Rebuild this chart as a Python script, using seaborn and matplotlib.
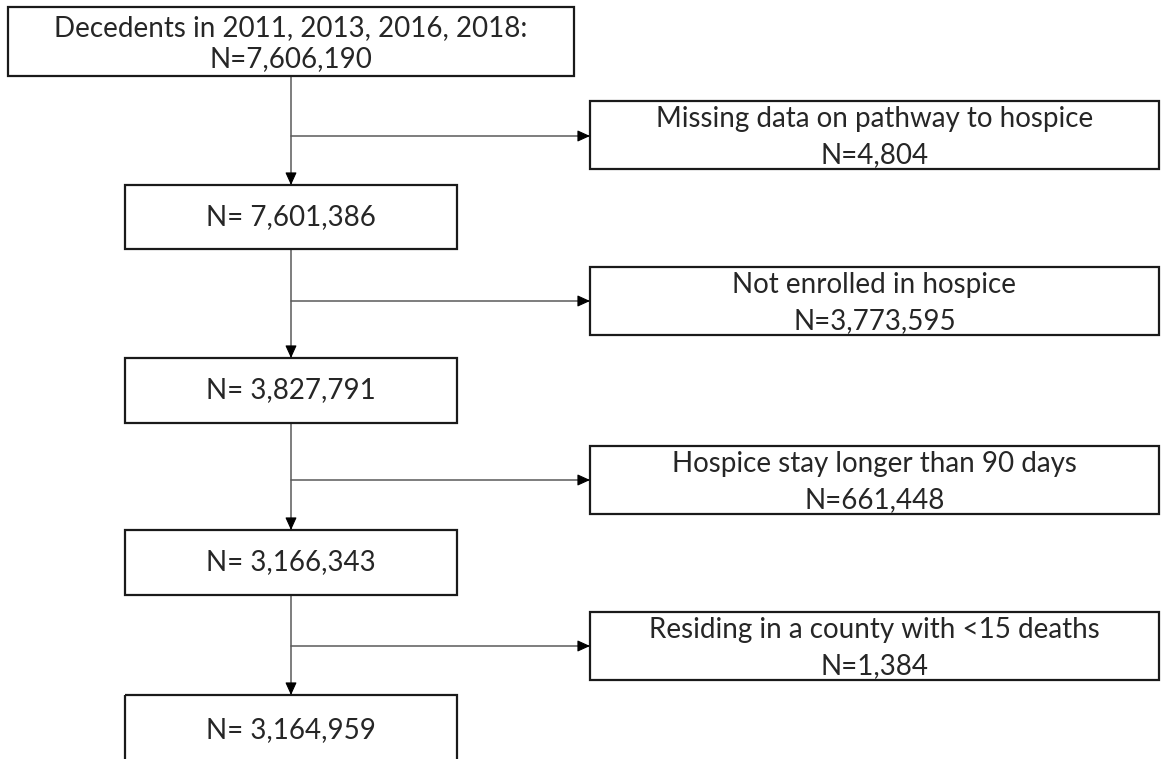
import seaborn as sns
import matplotlib.pyplot as plt
from matplotlib.patches import Rectangle

# flow chart content
top_label = "Decedents in 2011, 2013, 2016, 2018:"
main_counts = ["7,606,190", "7,601,386", "3,827,791", "3,166,343", "3,164,959"]
excluded_labels = [
    "Missing data on pathway to hospice",
    "Not enrolled in hospice",
    "Hospice stay longer than 90 days",
    "Residing in a county with <15 deaths",
]
excluded_counts = ["4,804", "3,773,595", "661,448", "1,384"]

sns.set_style("white")
plt.rcParams['font.family'] = ['Lato', 'DejaVu Sans']

fig = plt.figure(figsize=(11.61, 7.59), dpi=100, facecolor='white')
ax = fig.add_axes([0, 0, 1, 1])
ax.set_xlim(0, 1161)
ax.set_ylim(759, 0)
ax.axis('off')

edge = '#1a1a1a'
line_col = '#5a5a5a'
fs = 20

# main column boxes (left, top, width, height)
main_boxes = [(8, 7, 566, 69), (125, 185, 332, 64), (125, 358, 332, 65),
              (125, 530, 332, 65), (125, 695, 332, 70)]
side_boxes = [(590, 101, 569, 68), (590, 267, 569, 68),
              (590, 446, 569, 68), (590, 612, 569, 68)]
trunk_x = 291
branch_y = [136, 301, 480, 646]

for i, (x, y, w, h) in enumerate(main_boxes):
    ax.add_patch(Rectangle((x, y), w, h, fill=False, edgecolor=edge, lw=1.6, zorder=3))
    if i == 0:
        ax.text(x + w / 2, y + 21, top_label, ha='center', va='center', fontsize=fs)
        ax.text(x + w / 2, y + 52, "N=" + main_counts[0], ha='center', va='center', fontsize=fs)
    else:
        ax.text(x + w / 2, y + h / 2, "N= " + main_counts[i], ha='center', va='center', fontsize=fs)

for (x, y, w, h), lab, n in zip(side_boxes, excluded_labels, excluded_counts):
    ax.add_patch(Rectangle((x, y), w, h, fill=False, edgecolor=edge, lw=1.6, zorder=3))
    ax.text(x + w / 2, y + 18, lab, ha='center', va='center', fontsize=fs)
    ax.text(x + w / 2, y + 54, "N=" + n, ha='center', va='center', fontsize=fs)

head = dict(arrowstyle='-|>,head_length=0.55,head_width=0.25', color='black',
            lw=0.8, mutation_scale=14, shrinkA=0, shrinkB=0)


def connector(x0, y0, x1, y1):
    ax.plot([x0, x1], [y0, y1], color=line_col, lw=1.1, zorder=2)
    dx = 0 if x1 == x0 else (-6 if x1 > x0 else 6)
    dy = 0 if y1 == y0 else (-6 if y1 > y0 else 6)
    ax.annotate('', xy=(x1, y1), xytext=(x1 + dx, y1 + dy), arrowprops=head, zorder=4)


# vertical connectors between main boxes, with branches to the exclusion boxes
for i in range(len(branch_y)):
    x0, y0, w0, h0 = main_boxes[i]
    y1 = main_boxes[i + 1][1]
    connector(trunk_x, y0 + h0, trunk_x, y1)
    connector(trunk_x, branch_y[i], side_boxes[i][0], branch_y[i])

plt.savefig("out.png", dpi=100, facecolor='white')
